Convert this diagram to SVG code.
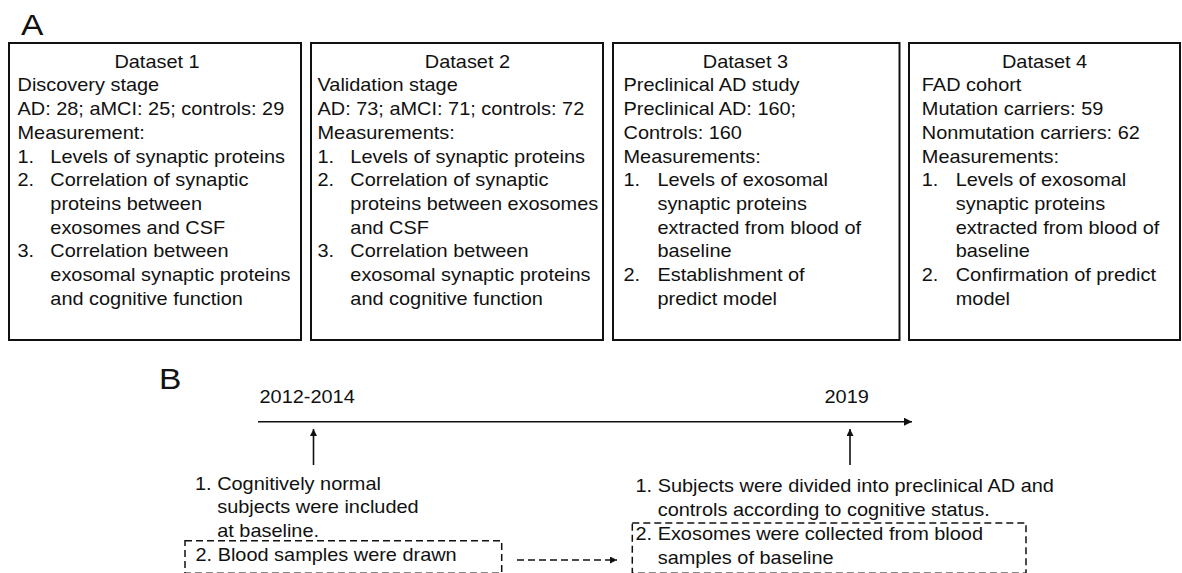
<svg xmlns="http://www.w3.org/2000/svg" width="1182" height="573" viewBox="0 0 1182 573">
<style>
text{font-family:"Liberation Sans",Arial,sans-serif;font-size:17.8px;fill:#111}
.box{fill:none;stroke:#111;stroke-width:2}
.dbox{fill:none;stroke:#111;stroke-width:1.5;stroke-dasharray:7 4}
.ln{stroke:#111;stroke-width:1.6;fill:none}
.dl{stroke:#111;stroke-width:1.5;fill:none;stroke-dasharray:7 4}
.lbl{font-size:30px}
.mid{text-anchor:middle}
</style>
<defs>
<marker id="ah" markerUnits="userSpaceOnUse" markerWidth="9" markerHeight="9" refX="8" refY="4" orient="auto"><path d="M0,0 L8,4 L0,8 z" fill="#111"/></marker>
<marker id="ahs" markerUnits="userSpaceOnUse" markerWidth="8" markerHeight="8" refX="7" refY="3.5" orient="auto"><path d="M0,0 L7,3.5 L0,7 z" fill="#111"/></marker>
</defs>
<g id="labelA"><text class="lbl" transform="translate(21,35) scale(1.12 1)">A</text></g>
<g id="labelB"><text class="lbl" transform="translate(159,389) scale(1.12 1)">B</text></g>

<g id="dataset1">
<rect class="box" x="9" y="43" width="292" height="297"/>
<g transform="translate(17.5 0) scale(1.12 1)">
<text class="mid" x="124.6" y="67.8">Dataset 1</text>
<text x="0" y="91.5">Discovery stage</text>
<text x="0" y="115.2">AD: 28; aMCI: 25; controls: 29</text>
<text x="0" y="138.9">Measurement:</text>
<text x="0" y="162.6">1.</text><text x="29.3" y="162.6">Levels of synaptic proteins</text>
<text x="0" y="186.3">2.</text><text x="29.3" y="186.3">Correlation of synaptic</text>
<text x="29.3" y="210">proteins between</text>
<text x="29.3" y="233.7">exosomes and CSF</text>
<text x="0" y="257.4">3.</text><text x="29.3" y="257.4">Correlation between</text>
<text x="29.3" y="281.1">exosomal synaptic proteins</text>
<text x="29.3" y="304.8">and cognitive function</text>
</g>
</g>

<g id="dataset2">
<rect class="box" x="311" y="43" width="292" height="297"/>
<g transform="translate(317.5 0) scale(1.12 1)">
<text class="mid" x="133.9" y="67.8">Dataset 2</text>
<text x="0" y="91.5">Validation stage</text>
<text x="0" y="115.2">AD: 73; aMCI: 71; controls: 72</text>
<text x="0" y="138.9">Measurements:</text>
<text x="0" y="162.6">1.</text><text x="29.3" y="162.6">Levels of synaptic proteins</text>
<text x="0" y="186.3">2.</text><text x="29.3" y="186.3">Correlation of synaptic</text>
<text x="29.3" y="210">proteins between exosomes</text>
<text x="29.3" y="233.7">and CSF</text>
<text x="0" y="257.4">3.</text><text x="29.3" y="257.4">Correlation between</text>
<text x="29.3" y="281.1">exosomal synaptic proteins</text>
<text x="29.3" y="304.8">and cognitive function</text>
</g>
</g>

<g id="dataset3">
<rect class="box" x="613" y="43" width="286.5" height="297"/>
<g transform="translate(623.5 0) scale(1.12 1)">
<text class="mid" x="108.9" y="67.8">Dataset 3</text>
<text x="0" y="91.5">Preclinical AD study</text>
<text x="0" y="115.2">Preclinical AD: 160;</text>
<text x="0" y="138.9">Controls: 160</text>
<text x="0" y="162.6">Measurements:</text>
<text x="0" y="186.3">1.</text><text x="30.3" y="186.3">Levels of exosomal</text>
<text x="30.3" y="210">synaptic proteins</text>
<text x="30.3" y="233.7">extracted from blood of</text>
<text x="30.3" y="257.4">baseline</text>
<text x="0" y="281.1">2.</text><text x="30.3" y="281.1">Establishment of</text>
<text x="30.3" y="304.8">predict model</text>
</g>
</g>

<g id="dataset4">
<rect class="box" x="909" y="43" width="271" height="297"/>
<g transform="translate(921.8 0) scale(1.12 1)">
<text class="mid" x="109.6" y="67.8">Dataset 4</text>
<text x="0" y="91.5">FAD cohort</text>
<text x="0" y="115.2">Mutation carriers: 59</text>
<text x="0" y="138.9">Nonmutation carriers: 62</text>
<text x="0" y="162.6">Measurements:</text>
<text x="0" y="186.3">1.</text><text x="30.3" y="186.3">Levels of exosomal</text>
<text x="30.3" y="210">synaptic proteins</text>
<text x="30.3" y="233.7">extracted from blood of</text>
<text x="30.3" y="257.4">baseline</text>
<text x="0" y="281.1">2.</text><text x="30.3" y="281.1">Confirmation of predict</text>
<text x="30.3" y="304.8">model</text>
</g>
</g>

<g id="year2012">
<text transform="translate(259.5,402.5) scale(1.12 1)">2012-2014</text>
</g>
<g id="year2019">
<text transform="translate(824.5,402.5) scale(1.12 1)">2019</text>
</g>

<g id="baseline-event">
<g transform="translate(195 0) scale(1.12 1)">
<text x="0" y="490">1. Cognitively normal</text>
<text x="19.8" y="513.5">subjects were included</text>
<text x="19.8" y="537">at baseline.</text>
</g>
</g>
<g id="blood-samples">
<rect class="dbox" x="185" y="540.7" width="316.7" height="32.5"/>
<text transform="translate(195.5,560.5) scale(1.12 1)">2. Blood samples were drawn</text>
</g>

<g id="followup-event">
<g transform="translate(635.5 0) scale(1.12 1)">
<text x="0" y="492.5">1. Subjects were divided into preclinical AD and</text>
<text x="19.8" y="516.2">controls according to cognitive status.</text>
</g>
</g>
<g id="exosomes">
<rect class="dbox" x="632.3" y="523" width="393.7" height="50.2"/>
<g transform="translate(635.5 0) scale(1.12 1)">
<text x="0" y="539.9">2. Exosomes were collected from blood</text>
<text x="19.8" y="563.6">samples of baseline</text>
</g>
</g>

<g id="connectors">
<line class="ln" x1="258" y1="421.7" x2="912" y2="421.7" marker-end="url(#ah)"/>
<line class="ln" x1="313.5" y1="465" x2="313.5" y2="429" marker-end="url(#ahs)"/>
<line class="ln" x1="850" y1="465" x2="850" y2="429" marker-end="url(#ahs)"/>
<line class="dl" x1="517" y1="560" x2="617" y2="560" marker-end="url(#ahs)"/>
</g>
</svg>
